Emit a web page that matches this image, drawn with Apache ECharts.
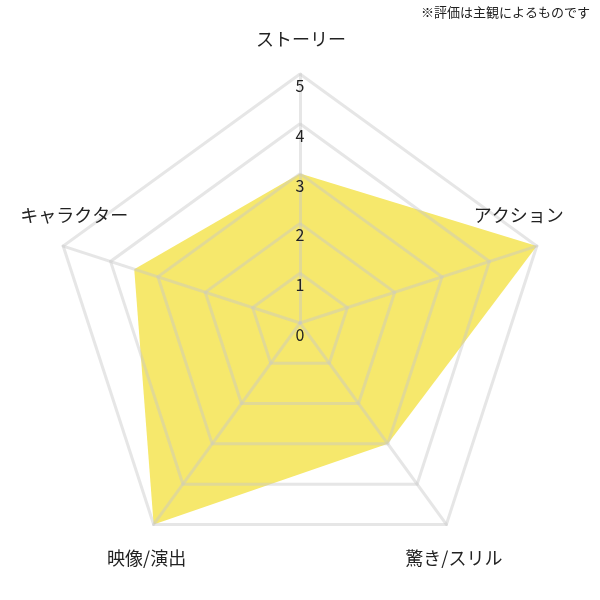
<!DOCTYPE html>
<html>
<head>
<meta charset="utf-8">
<script src="https://cdn.jsdelivr.net/npm/echarts@6/dist/echarts.min.js"></script>
<style>
html,body{margin:0;padding:0;background:#fff;}
#main{width:600px;height:600px;}
</style>
</head>
<body>
<div id="main"></div>
<script>
// Indicators in ECharts order (counter-clockwise from top)
var categories = ['ストーリー', 'キャラクター', '映像/演出', '驚き/スリル', 'アクション'];
var maxValue = 5;
var scores = [3, 3.5, 5, 3, 5];
var tickLabels = ['0', '1', '2', '3', '4', '5'];
var noteText = '※評価は主観によるものです';

var FONT = '"Noto Sans CJK JP", "Noto Sans", sans-serif';
var lineCol = 'rgba(200,200,200,0.45)';

// label offset styles per indicator position (top, upper-left, lower-left, lower-right, upper-right)
var pads = [
  [0, 0, 70, 2],
  [0, 0, 61, 22],
  [68, 14, 0, 0],
  [68, 0, 0, 15],
  [0, 36, 61, 0]
];
var rich = {};
categories.forEach(function (c, i) {
  rich['n' + i] = { fontSize: 18, color: '#222', fontFamily: FONT, padding: pads[i] };
});

var chart = echarts.init(document.getElementById('main'));
chart.setOption({
  backgroundColor: '#fff',
  animation: false,
  title: {
    text: noteText,
    right: 5,
    top: 1,
    textStyle: { fontSize: 13, fontWeight: 'normal', color: '#222', fontFamily: FONT }
  },
  radar: {
    z: 3,
    center: ['50%', 323],
    radius: 249,
    startAngle: 90,
    splitNumber: 5,
    nameGap: 0,
    shape: 'polygon',
    indicator: categories.map(function (c, i) {
      var ind = { name: c, min: 0, max: maxValue };
      if (i === 0) ind.axisLabel = { show: true };
      return ind;
    }),
    axisName: {
      color: '#222',
      fontSize: 18,
      fontFamily: FONT,
      align: 'center',
      verticalAlign: 'middle',
      formatter: function (name) {
        var i = categories.indexOf(name);
        return '{n' + i + '|' + name + '}';
      },
      rich: rich
    },
    axisLabel: {
      show: false,
      margin: 0,
      align: 'center',
      verticalAlign: 'top',
      padding: [4, 0, 0, 0],
      color: '#222',
      fontSize: 16,
      fontFamily: FONT,
      formatter: function (v) { return tickLabels[Math.round(v)]; }
    },
    axisTick: { show: false },
    axisLine: { show: true, lineStyle: { color: lineCol, width: 3 } },
    splitLine: { show: true, lineStyle: { color: lineCol, width: 3 } },
    splitArea: { show: false }
  },
  series: [{
    type: 'radar',
    z: 2,
    symbol: 'none',
    lineStyle: { width: 0, color: '#f6e86c' },
    areaStyle: { color: '#f6e86c', opacity: 1 },
    data: [{ value: scores }]
  }]
});
</script>
</body>
</html>
